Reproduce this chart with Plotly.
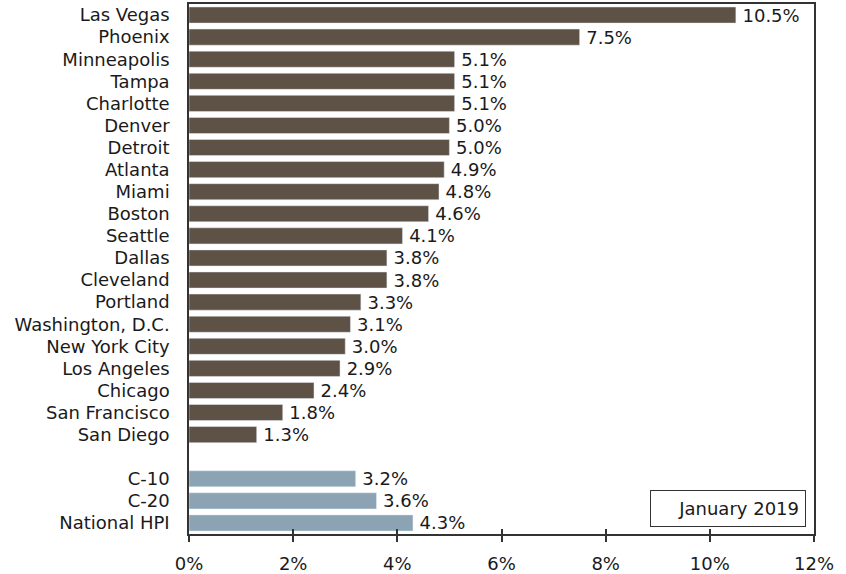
import plotly.graph_objects as go

cities = ["Las Vegas", "Phoenix", "Minneapolis", "Tampa", "Charlotte", "Denver", "Detroit",
          "Atlanta", "Miami", "Boston", "Seattle", "Dallas", "Cleveland", "Portland",
          "Washington, D.C.", "New York City", "Los Angeles", "Chicago", "San Francisco", "San Diego"]
city_values = [10.5, 7.5, 5.1, 5.1, 5.1, 5.0, 5.0, 4.9, 4.8, 4.6, 4.1, 3.8, 3.8, 3.3,
               3.1, 3.0, 2.9, 2.4, 1.8, 1.3]
composites = ["C-10", "C-20", "National HPI"]
composite_values = [3.2, 3.6, 4.3]
gap_label = " "
x_ticks = [0, 2, 4, 6, 8, 10, 12]
x_tick_labels = ["0%", "2%", "4%", "6%", "8%", "10%", "12%"]

order = cities + [gap_label] + composites
font = dict(family="DejaVu Sans, Verdana, sans-serif", size=18, color="#1a1a1a")

def labels(vals):
    return ["\u2009" + f"{v:.1f}%" for v in vals]

fig = go.Figure()
fig.add_trace(go.Bar(
    x=city_values, y=cities, orientation="h", marker_color="#5E5246",
    text=labels(city_values), textposition="outside", constraintext="none",
    textfont=font, cliponaxis=False, showlegend=False))
fig.add_trace(go.Bar(
    x=composite_values, y=composites, orientation="h", marker_color="#8BA3B2",
    text=labels(composite_values), textposition="outside", constraintext="none",
    textfont=font, cliponaxis=False, showlegend=False))
# invisible trace on overlay axis for inside ticks
fig.add_trace(go.Scatter(x=[0, 12], y=[cities[0], cities[0]], xaxis="x2", mode="markers",
                         marker=dict(opacity=0), hoverinfo="skip", showlegend=False))

fig.update_layout(
    width=846, height=574,
    margin=dict(l=189, r=32, t=4, b=40),
    paper_bgcolor="white", plot_bgcolor="white",
    font=font, bargap=0.27, barmode="overlay",
    xaxis=dict(range=[0, 12], tickvals=x_ticks, ticktext=x_tick_labels, automargin=False,
               showgrid=False, zeroline=False, showline=True, linecolor="#333333",
               linewidth=1.5, mirror=True, ticks="outside", ticklen=6, tickcolor="#333333",
               tickwidth=1.5, tickfont=font, ticklabelstandoff=7),
    xaxis2=dict(range=[0, 12], overlaying="x", side="bottom", tickvals=x_ticks,
                showticklabels=False, showgrid=False, zeroline=False, showline=False,
                ticks="inside", ticklen=5, tickcolor="#333333", tickwidth=1.5),
    yaxis=dict(categoryorder="array", categoryarray=order, type="category",
               tickmode="array", tickvals=order, ticktext=order, automargin=False,
               range=[len(order) - 0.5, -0.5], showgrid=False, zeroline=False,
               showline=True, linecolor="#333333", linewidth=1.5, mirror=True,
               ticks="", tickfont=font, ticklabelstandoff=14),
    annotations=[dict(text="January 2019", xref="paper", yref="paper", x=0.987, y=0.013,
                      xanchor="right", yanchor="bottom", showarrow=False, font=font,
                      width=142, height=23, align="right",
                      bordercolor="#333333", borderwidth=1, borderpad=6, bgcolor="white")],
)
fig.write_html("out.html")
